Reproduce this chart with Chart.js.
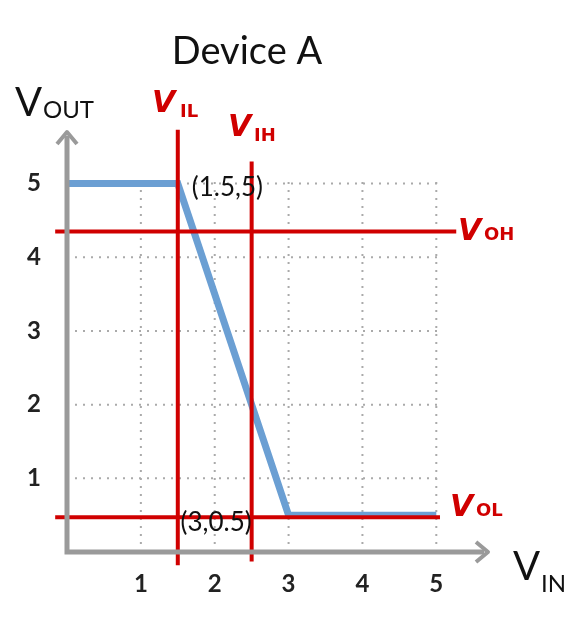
<!DOCTYPE html>
<html><head><meta charset="utf-8">
<script src="https://cdn.jsdelivr.net/npm/chart.js@4"></script>
<style>body{margin:0;background:#fff}#c{display:block}</style>
</head><body>
<canvas id="c" width="586" height="627"></canvas>
<script>
// transfer curve of Device A
const vin = [0, 1.5, 3, 5];
const vout = [5, 5, 0.5, 0.5];
const tickVals = [1, 2, 3, 4, 5];
// threshold markers
const VIL = 1.5, VIH = 2.5, VOH = 4.35, VOL = 0.47;

const red = '#d00000';
const redLine = (pts) => ({data: pts, borderColor: red, borderWidth: 4, pointRadius: 0, clip: false, order: 0});

// dotted grid that stops at 5 like the original
const dotGrid = {
  id: 'dotGrid',
  beforeDatasetsDraw(chart) {
    const c = chart.ctx, xs = chart.scales.x, ys = chart.scales.y;
    const x0 = xs.getPixelForValue(0), x5 = xs.getPixelForValue(5.05);
    const y0 = ys.getPixelForValue(0), y5 = ys.getPixelForValue(5.05);
    c.save();
    c.strokeStyle = '#aaa'; c.lineWidth = 2; c.setLineDash([2, 6]);
    tickVals.forEach(v => {
      const px = xs.getPixelForValue(v), py = ys.getPixelForValue(v);
      c.beginPath(); c.moveTo(px, y0); c.lineTo(px, y5); c.stroke();
      c.beginPath(); c.moveTo(x0, py); c.lineTo(x5, py); c.stroke();
    });
    c.restore();
  }
};

const overlay = {
  id: 'overlay',
  afterDraw(chart) {
    const c = chart.ctx, xs = chart.scales.x, ys = chart.scales.y, a = chart.chartArea;
    c.save();
    // axes with arrows
    c.strokeStyle = '#9a9a9a'; c.lineWidth = 5; c.lineCap = 'butt';
    c.beginPath(); c.moveTo(a.left, a.top + 4); c.lineTo(a.left, a.bottom); c.lineTo(a.right - 4, a.bottom); c.stroke();
    c.lineWidth = 4; c.lineJoin = 'round';
    c.beginPath(); c.moveTo(a.left - 10, a.top + 12); c.lineTo(a.left, a.top); c.lineTo(a.left + 10, a.top + 12); c.stroke();
    c.beginPath(); c.moveTo(a.right - 12, a.bottom - 10); c.lineTo(a.right, a.bottom); c.lineTo(a.right - 12, a.bottom + 10); c.stroke();
    // texts
    c.fillStyle = '#111'; c.textBaseline = 'alphabetic';
    c.font = '38px Lato'; c.textAlign = 'center';
    c.fillText('Device A', 247, 64);
    c.textAlign = 'left';
    c.font = '40px Lato'; c.fillText('V', 15, 116);
    c.font = '24px Lato'; c.fillText('OUT', 43, 118);
    c.font = '40px Lato'; c.fillText('V', 513, 580);
    c.font = '24px Lato'; c.fillText('IN', 541, 592);
    c.font = '26px Lato';
    c.fillText('(1.5,5)', xs.getPixelForValue(vin[1]) + 14, ys.getPixelForValue(vout[1]) + 12);
    c.fillText('(3,0.5)', xs.getPixelForValue(vin[2]) - 108, ys.getPixelForValue(vout[2]) + 16);
    // handwritten red labels
    c.fillStyle = red; c.font = 'italic bold 30px "DejaVu Sans"';
    c.fillText('V', 152, 112); c.font = 'bold 18px "DejaVu Sans"'; c.fillText('IL', 180, 117);
    c.font = 'italic bold 30px "DejaVu Sans"'; c.fillText('V', 228, 136); c.font = 'bold 18px "DejaVu Sans"'; c.fillText('IH', 254, 141);
    c.font = 'italic bold 30px "DejaVu Sans"'; c.fillText('V', 458, 240); c.font = 'bold 18px "DejaVu Sans"'; c.fillText('OH', 484, 240);
    c.font = 'italic bold 30px "DejaVu Sans"'; c.fillText('V', 450, 516); c.font = 'bold 18px "DejaVu Sans"'; c.fillText('OL', 476, 516);
    c.restore();
  }
};

const tickFont = {family: 'Lato', size: 24, weight: 'bold'};
new Chart(document.getElementById('c'), {
  type: 'line',
  data: {datasets: [
    redLine([{x: VIL, y: -0.18}, {x: VIL, y: 5.73}]),
    redLine([{x: VIH, y: -0.13}, {x: VIH, y: 5.3}]),
    redLine([{x: -0.16, y: VOH}, {x: 5.27, y: VOH}]),
    redLine([{x: -0.16, y: VOL}, {x: 5.05, y: VOL}]),
    {data: vin.map((x, i) => ({x, y: vout[i]})), borderColor: '#6b9fd3', borderWidth: 7, pointRadius: 0, clip: false, order: 1}
  ]},
  options: {
    responsive: false, animation: false,
    layout: {padding: {left: 27, top: 132, right: 98, bottom: 35}},
    plugins: {legend: {display: false}, tooltip: {enabled: false}},
    scales: {
      x: {type: 'linear', min: 0, max: 5.7,
        afterBuildTicks: s => { s.ticks = tickVals.map(v => ({value: v})); },
        afterFit: s => { s.height = 40; },
        border: {display: false},
        grid: {display: false},
        ticks: {color: '#222', font: tickFont, padding: 10}},
      y: {type: 'linear', min: 0, max: 5.7,
        afterBuildTicks: s => { s.ticks = tickVals.map(v => ({value: v})); },
        afterFit: s => { s.width = 40; },
        border: {display: false},
        grid: {display: false},
        ticks: {color: '#222', font: tickFont, padding: 18}}
    }
  },
  plugins: [dotGrid, overlay]
});
</script>
</body></html>
